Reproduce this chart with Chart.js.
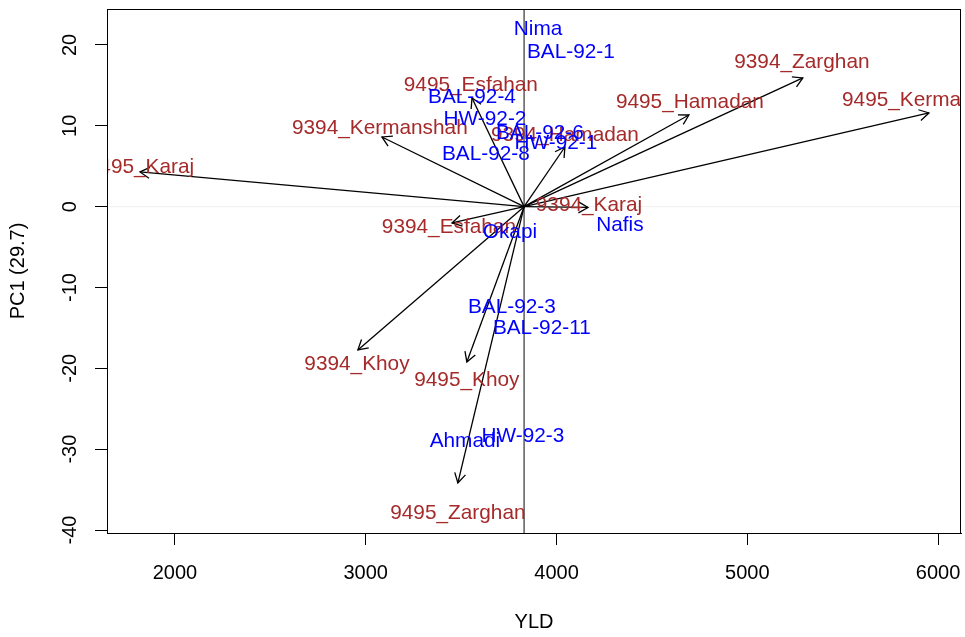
<!DOCTYPE html>
<html>
<head>
<meta charset="utf-8">
<script src="https://cdn.jsdelivr.net/npm/chart.js"></script>
<style>
html, body { margin: 0; padding: 0; background: #fff; }
#wrap { width: 965px; height: 637px; }
</style>
</head>
<body>
<div id="wrap"><canvas id="biplot"></canvas></div>
<script>
// centre of the biplot (mean YLD, PC1 = 0)
const origin = [3830, 0];

// environment vectors (arrow tips) and where their labels sit
const envNames = ["9495_Karaj", "9394_Karaj", "9495_Esfahan", "9394_Esfahan", "9394_Kermanshah", "9495_Kermanshah",
	"9495_Hamadan", "9394_Hamadan", "9394_Zarghan", "9495_Zarghan", "9394_Khoy", "9495_Khoy"];
const envX = [1817, 4165, 3557, 3452, 3085, 5952, 4694, 4044, 5291, 3483, 2959, 3530];
const envY = [4.29, -0.1, 13.44, -2.02, 8.62, 11.59, 11.34, 7.38, 15.92, -34.17, -17.72, -19.21];
const envLabelX = [1822, 4170, 3551, 3436, 3074, 5957, 4699, 4044, 5286, 3483, 2954, 3530];
const envLabelY = [4.91, 0.15, 15.05, -2.51, 9.73, 13.2, 12.95, 8.8, 17.9, -37.9, -19.45, -21.43];

// genotypes
const genoNames = ["Nima", "BAL-92-1", "BAL-92-4", "HW-92-2", "BAL-92-6", "HW-92-1", "BAL-92-8",
	"Okapi", "Nafis", "BAL-92-3", "BAL-92-11", "Ahmadi", "HW-92-3"];
const genoX = [3903, 4075, 3557, 3625, 3913, 3997, 3630, 3756, 4332, 3766, 3923, 3520, 3824];
const genoY = [21.98, 19.13, 13.57, 10.85, 9.12, 7.88, 6.52, -3.15, -2.27, -12.5, -15.1, -28.98, -28.36];

const xTicks = [2000, 3000, 4000, 5000, 6000];
const yTicks = [-40, -30, -20, -10, 0, 10, 20];
const xLimits = [1644, 6120];
const yLimits = [-40.37, 24.45];

const FONT = '"Liberation Sans", Arial, sans-serif';

var datasets = envNames.map(function (name, i) {
	return {
		label: name,
		data: [{ x: origin[0], y: origin[1] }, { x: envX[i], y: envY[i] }],
		borderColor: "#000",
		borderWidth: 1.3,
		pointRadius: 0,
		showLine: true,
		order: 1
	};
});
datasets.push({
	label: "vline",
	data: [{ x: origin[0], y: yLimits[0] }, { x: origin[0], y: yLimits[1] }],
	borderColor: "#333",
	borderWidth: 1.2,
	pointRadius: 0,
	showLine: true,
	order: 3
});
datasets.push({
	label: "hline",
	data: [{ x: xLimits[0], y: 0 }, { x: xLimits[1], y: 0 }],
	borderColor: "#f0f0f0",
	borderWidth: 1,
	pointRadius: 0,
	showLine: true,
	order: 4
});

const biplotText = {
	id: "biplotText",
	afterDatasetsDraw(chart) {
		const ctx = chart.ctx;
		const area = chart.chartArea;
		const xs = chart.scales.x, ys = chart.scales.y;
		ctx.save();
		ctx.beginPath();
		ctx.rect(area.left, area.top, area.right - area.left, area.bottom - area.top);
		ctx.clip();
		// arrow heads
		ctx.strokeStyle = "#000";
		ctx.lineWidth = 1.3;
		envNames.forEach(function (n, i) {
			const meta = chart.getDatasetMeta(i);
			const a = meta.data[0], b = meta.data[1];
			const ang = Math.atan2(b.y - a.y, b.x - a.x);
			const len = 11;
			ctx.beginPath();
			ctx.moveTo(b.x - len * Math.cos(ang - Math.PI / 6), b.y - len * Math.sin(ang - Math.PI / 6));
			ctx.lineTo(b.x, b.y);
			ctx.lineTo(b.x - len * Math.cos(ang + Math.PI / 6), b.y - len * Math.sin(ang + Math.PI / 6));
			ctx.stroke();
		});
		ctx.font = "20.8px " + FONT;
		ctx.textAlign = "center";
		ctx.textBaseline = "middle";
		ctx.fillStyle = "#a52a2a";
		envNames.forEach(function (n, i) {
			ctx.fillText(n, xs.getPixelForValue(envLabelX[i]), ys.getPixelForValue(envLabelY[i]));
		});
		ctx.fillStyle = "#0000ff";
		genoNames.forEach(function (n, i) {
			ctx.fillText(n, xs.getPixelForValue(genoX[i]), ys.getPixelForValue(genoY[i]));
		});
		ctx.restore();
	},
	afterDraw(chart) {
		const ctx = chart.ctx;
		const area = chart.chartArea;
		const ys = chart.scales.y;
		ctx.save();
		ctx.strokeStyle = "#000";
		ctx.lineWidth = 1;
		ctx.strokeRect(area.left + 0.5, area.top + 0.5, area.right - area.left - 1, area.bottom - area.top);
		// rotated y tick labels, R style
		ctx.fillStyle = "#000";
		ctx.font = "20px " + FONT;
		ctx.textAlign = "center";
		ctx.textBaseline = "middle";
		yTicks.forEach(function (v) {
			ctx.save();
			ctx.translate(70, ys.getPixelForValue(v));
			ctx.rotate(-Math.PI / 2);
			ctx.fillText(String(v), 0, 0);
			ctx.restore();
		});
		ctx.restore();
	}
};

var chart = new Chart(document.getElementById("biplot"), {
	type: "scatter",
	data: { datasets: datasets },
	options: {
		responsive: true,
		maintainAspectRatio: false,
		animation: false,
		layout: { padding: { top: 9, right: 4, left: 0, bottom: 0 } },
		plugins: {
			legend: { display: false },
			tooltip: { enabled: false }
		},
		scales: {
			x: {
				type: "linear",
				min: xLimits[0],
				max: xLimits[1],
				afterBuildTicks: function (s) { s.ticks = xTicks.map(function (v) { return { value: v }; }); },
				afterFit: function (s) { s.height = 104; s.paddingLeft = 0; s.paddingRight = 0; },
				grid: { drawOnChartArea: false, drawTicks: true, tickLength: 12, tickColor: "#000", tickWidth: 1 },
				border: { display: true, color: "#000", width: 1 },
				ticks: {
					color: "#000", padding: 16, maxRotation: 0,
					font: { family: FONT, size: 20 },
					callback: function (v) { return String(v); }
				},
				title: { display: true, text: "YLD", color: "#000", font: { family: FONT, size: 20 }, padding: { top: 0, bottom: 3 } }
			},
			y: {
				type: "linear",
				min: yLimits[0],
				max: yLimits[1],
				afterBuildTicks: function (s) { s.ticks = yTicks.map(function (v) { return { value: v }; }); },
				afterFit: function (s) { s.width = 107; s.paddingTop = 0; s.paddingBottom = 0; },
				grid: { drawOnChartArea: false, drawTicks: true, tickLength: 12, tickColor: "#000", tickWidth: 1 },
				border: { display: true, color: "#000", width: 1 },
				ticks: { display: false },
				title: { display: true, text: "PC1 (29.7)", color: "#000", font: { family: FONT, size: 20 }, padding: { top: 6, bottom: 0 } }
			}
		}
	},
	plugins: [biplotText]
});
</script>
</body>
</html>
